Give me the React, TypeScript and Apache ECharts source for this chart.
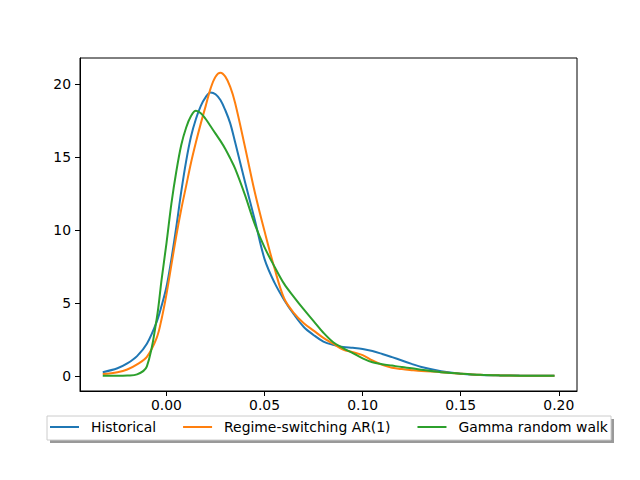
import React, { useEffect, useRef } from "react";
import * as echarts from "echarts";

const xs = [-0.0325, -0.025, -0.02, -0.015, -0.01, -0.005, -0.0025, 0, 0.0025, 0.005, 0.0075, 0.01, 0.0125, 0.015, 0.0175, 0.02, 0.0225, 0.025, 0.0275, 0.03, 0.0325, 0.035, 0.04, 0.045, 0.05, 0.055, 0.06, 0.065, 0.07, 0.075, 0.08, 0.085, 0.09, 0.095, 0.1, 0.105, 0.11, 0.115, 0.12, 0.125, 0.13, 0.14, 0.15, 0.16, 0.17, 0.18, 0.19, 0.1978];

const historical = [0.25, 0.52, 0.85, 1.35, 2.2, 3.7, 4.8, 6.1, 8.0, 10.2, 12.6, 14.7, 16.4, 17.6, 18.5, 19.1, 19.42, 19.3, 18.9, 18.2, 17.3, 16.0, 13.3, 10.7, 8.0, 6.4, 5.2, 4.2, 3.35, 2.8, 2.35, 2.12, 1.98, 1.92, 1.84, 1.7, 1.5, 1.28, 1.05, 0.82, 0.6, 0.32, 0.15, 0.06, 0.03, 0.015, 0.01, 0.01];

const regime = [0.12, 0.25, 0.43, 0.78, 1.3, 2.6, 3.9, 5.6, 7.6, 9.6, 11.4, 13.0, 14.6, 16.0, 17.3, 18.5, 19.7, 20.5, 20.77, 20.5, 19.8, 18.7, 15.7, 12.6, 9.9, 7.4, 5.3, 4.3, 3.6, 3.1, 2.6, 2.2, 1.8, 1.62, 1.42, 1.05, 0.75, 0.56, 0.46, 0.39, 0.33, 0.25, 0.15, 0.07, 0.03, 0.01, 0.0, 0.0];

const gamma = [0.0, 0.0, 0.02, 0.1, 0.65, 3.9, 6.6, 9.1, 11.8, 14.0, 15.8, 17.0, 17.8, 18.16, 18.0, 17.6, 17.1, 16.6, 16.1, 15.55, 14.9, 14.2, 12.4, 10.4, 8.8, 7.5, 6.3, 5.4, 4.55, 3.75, 2.95, 2.3, 1.9, 1.55, 1.2, 0.93, 0.8, 0.7, 0.6, 0.52, 0.42, 0.25, 0.15, 0.07, 0.03, 0.01, 0.0, 0.0];

const seriesNames = ["Historical", "Regime-switching AR(1)", "Gamma random walk"];
const seriesColors = ["#1f77b4", "#ff7f0e", "#2ca02c"];
const xTicks = [0, 0.05, 0.1, 0.15, 0.2];
const yTicks = [0, 5, 10, 15, 20];

const FONT = "DejaVu Sans";

export default function App() {
  const ref = useRef<HTMLDivElement>(null);
  useEffect(() => {
    document.body.style.margin = "0";
    const chart = echarts.init(ref.current!, null, { renderer: "svg" });
    const ys = [historical, regime, gamma];
    chart.setOption({
      animation: false,
      backgroundColor: "#fff",
      grid: {
        left: 80,
        top: 58,
        right: 63,
        bottom: 89,
        show: true,
        borderColor: "#000",
        borderWidth: 1,
        backgroundColor: "transparent",
      },
      xAxis: {
        type: "value",
        min: -0.0441,
        max: 0.2093,
        splitLine: { show: false },
        axisLine: { show: true, onZero: false, lineStyle: { color: "#000", width: 1 } },
        axisTick: { show: true, inside: false, length: 5, lineStyle: { color: "#000", width: 1 }, customValues: xTicks },
        axisLabel: {
          show: true,
          margin: 7,
          color: "#000",
          fontFamily: FONT,
          fontSize: 13.9,
          customValues: xTicks,
          formatter: (v: number) => v.toFixed(2),
        },
      },
      yAxis: {
        type: "value",
        min: -1.04,
        max: 21.78,
        splitLine: { show: false },
        axisLine: { show: true, onZero: false, lineStyle: { color: "#000", width: 1 } },
        axisTick: { show: true, inside: false, length: 5, lineStyle: { color: "#000", width: 1 }, customValues: yTicks },
        axisLabel: {
          show: true,
          margin: 9,
          color: "#000",
          fontFamily: FONT,
          fontSize: 13.9,
          customValues: yTicks,
          formatter: (v: number) => String(Math.round(v)),
        },
      },
      graphic: [
        { type: "rect", z: 0, shape: { x: 50, y: 419, width: 564, height: 24 }, style: { fill: "#999" }, silent: true },
        { type: "rect", z: 1, shape: { x: 47, y: 416, width: 564, height: 24 }, style: { fill: "#fff", stroke: "#cccccc", lineWidth: 1 }, silent: true },
      ],
      legend: {
        show: true,
        z: 10,
        left: 50,
        top: 420,
        orient: "horizontal",
        padding: 0,
        itemGap: 27,
        itemWidth: 29,
        itemHeight: 2,
        icon: "rect",
        data: seriesNames,
        textStyle: {
          color: "#000",
          fontFamily: FONT,
          fontSize: 13.9,
          padding: [0, 0, 0, 7],
        },
      },
      series: seriesNames.map((name, k) => ({
        name,
        type: "line",
        data: xs.map((x, i) => [x, ys[k][i]]),
        smooth: 0.35,
        showSymbol: false,
        symbol: "none",
        color: seriesColors[k],
        lineStyle: { color: seriesColors[k], width: 2 },
        z: 3 + k,
      })),
    });
    return () => chart.dispose();
  }, []);
  return <div ref={ref} style={{ width: 640, height: 480 }} />;
}
